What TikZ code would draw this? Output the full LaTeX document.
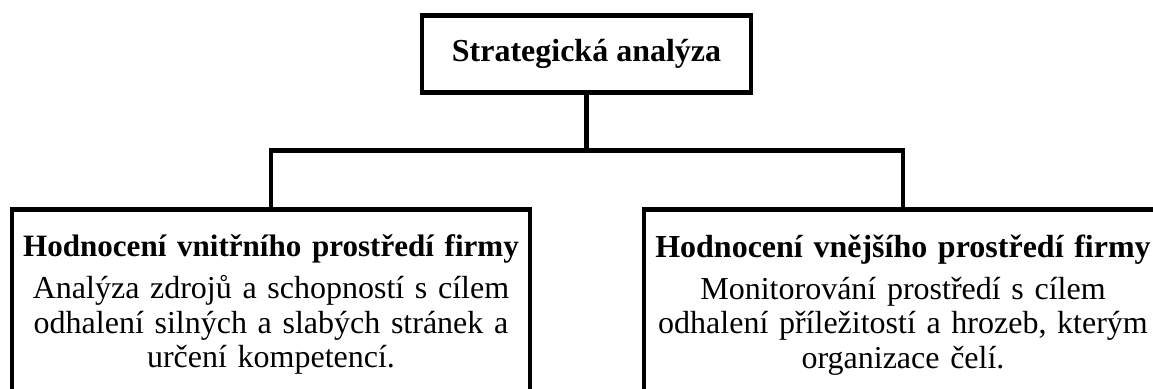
\documentclass[tikz,border=0pt]{standalone}
\usepackage{fontspec}
\setmainfont{Liberation Serif}
\usetikzlibrary{positioning}

\begin{document}
\begin{tikzpicture}[x=0.75pt,y=-0.75pt,line width=3.5pt,node distance=2cm]
	\tikzstyle{every node}=[font=\fontsize{24}{26}\selectfont]
	\tikzstyle{topbox}=[draw=black, fill=white, minimum width=246.75pt, minimum height=57.4pt, font=\bfseries\fontsize{24}{26}\selectfont]
	\tikzstyle{sidebox}=[draw=black, anchor=north, minimum width=388.5pt, text width=386pt, align=center, inner xsep=0pt, inner ysep=19pt, text depth=120pt]
	\useasboundingbox (0,0) rectangle (1153,389);
	\clip (0,0) rectangle (1153,389);
	\node[topbox] (top) at (586.5,54) {Strategická analýza};
	\node[sidebox] (inner) at (271,207) {{\bfseries\fontsize{23.3}{26}\selectfont Hodnocení vnitřního prostředí firmy}\\[5.5pt]
		Analýza zdrojů a schopností s cílem\\ odhalení silných a slabých stránek a\\ určení kompetencí.};
	\node[sidebox] (outer) at (903,207) {{\bfseries Hodnocení vnějšího prostředí firmy}\\[5.5pt]
		Monitorování prostředí s cílem\\ odhalení příležitostí a hrozeb, kterým\\ organizace čelí.};
	% connectors
	\coordinate[below=42pt of top.south] (bus);
	\draw (top.south) -- (bus);
	\draw (inner.north) |- (bus) -| (outer.north);
\end{tikzpicture}
\end{document}
